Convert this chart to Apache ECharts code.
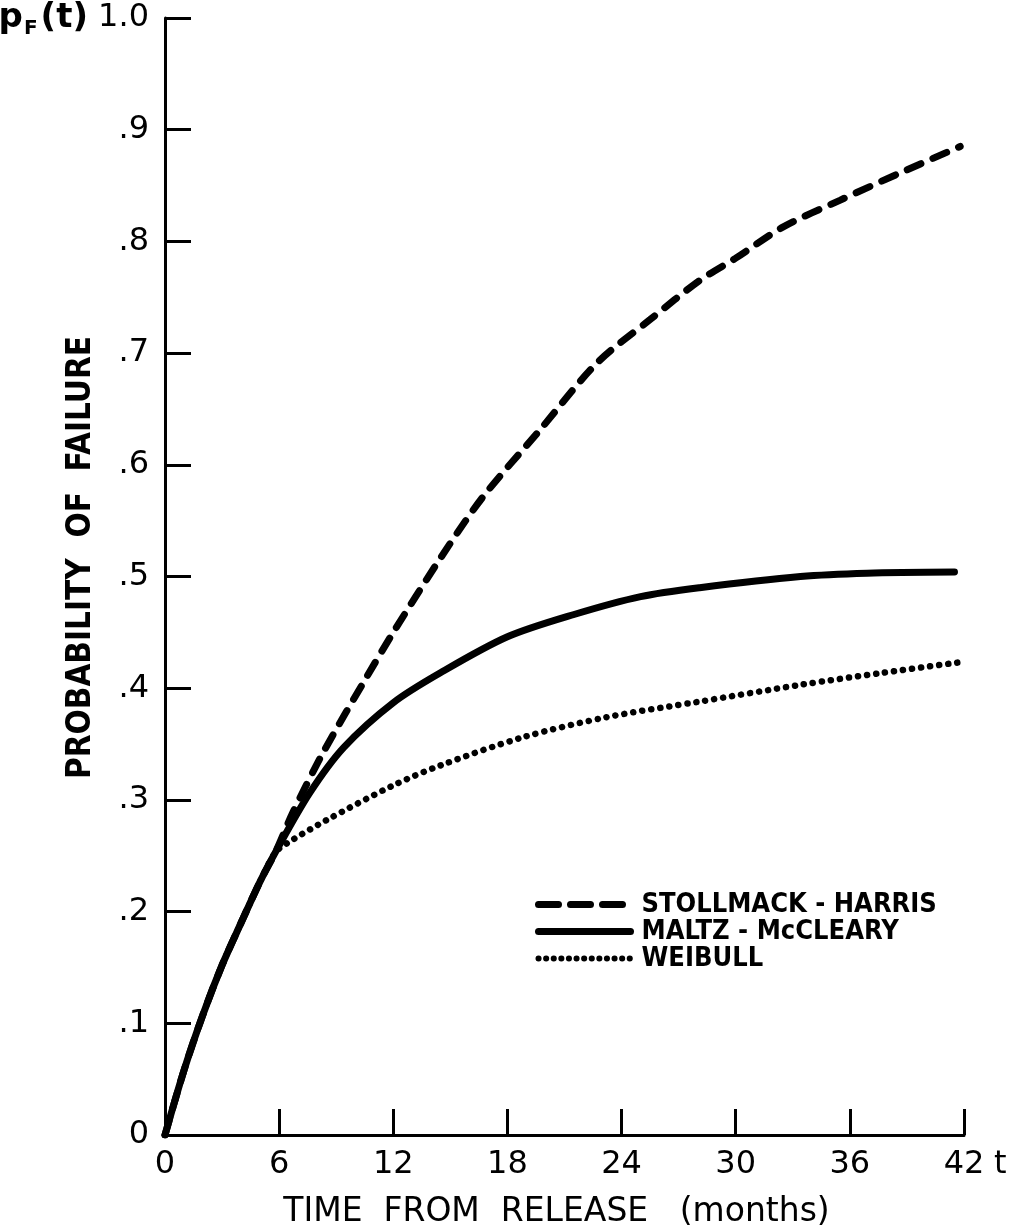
<!DOCTYPE html>
<html>
<head>
<meta charset="utf-8">
<script src="https://cdn.jsdelivr.net/npm/echarts@6/dist/echarts.min.js"></script>
<style>
  html, body { margin: 0; padding: 0; background: #fff; }
  #chart { width: 1017px; height: 1230px; }
</style>
</head>
<body>
<div id="chart"></div>
<script>
// Probability of failure vs. time from release, three models
const stollmackT = [0, 1, 2, 3, 4, 5, 5.8, 6.7, 8.3, 10.6, 12, 14.5, 16.7, 19.7, 22.7, 25.5, 28.1, 30, 32.5, 35.5, 38.6, 41.8];
const stollmackP = [0, 0.058, 0.108, 0.152, 0.19, 0.227, 0.253, 0.288, 0.342, 0.41, 0.45, 0.517, 0.571, 0.631, 0.691, 0.73, 0.765, 0.785, 0.813, 0.837, 0.861, 0.885];

const maltzT = [0, 1, 2, 3, 4, 5, 5.8, 7.6, 9.4, 12, 14.5, 18, 21.5, 25, 28.1, 33.4, 36.9, 41.5];
const maltzP = [0, 0.058, 0.108, 0.152, 0.19, 0.227, 0.253, 0.306, 0.347, 0.387, 0.414, 0.446, 0.466, 0.482, 0.49, 0.5, 0.503, 0.504];

const weibullT = [0, 1, 2, 3, 4, 5, 5.8, 6.4, 8.5, 12, 14.5, 18.8, 23.2, 28.1, 33.4, 37.8, 41.7];
const weibullP = [0, 0.058, 0.108, 0.152, 0.19, 0.227, 0.253, 0.261, 0.282, 0.313, 0.331, 0.356, 0.374, 0.388, 0.403, 0.414, 0.423];

const seriesNames = ['STOLLMACK - HARRIS', 'MALTZ - McCLEARY', 'WEIBULL'];
const xTitle = 'TIME  FROM  RELEASE   (months)';
const yTitle = 'PROBABILITY  OF  FAILURE';

const pairs = (ts, ps) => ts.map((t, i) => [t, ps[i]]);

const FONT = 'DejaVu Sans';
const FONT_NARROW = 'DejaVu Sans Condensed';
const INK = '#000';

// line looks of the three curves
const dashedLine = { color: INK, width: 7, type: [15, 13], cap: 'round' };
const solidLine = { color: INK, width: 7, cap: 'round' };
const dottedLine = { color: INK, width: 6.5, type: [0.1, 9], cap: 'round' };

const chart = echarts.init(document.getElementById('chart'), null, { renderer: 'canvas' });

chart.setOption({
  animation: false,
  backgroundColor: '#fff',
  textStyle: { fontFamily: FONT, color: INK },
  grid: { left: 165, right: 53, top: 18, bottom: 95, containLabel: false, outerBoundsMode: 'none' },
  legend: {
    orient: 'vertical',
    left: 535,
    top: 891,
    padding: 0,
    itemWidth: 92,
    itemHeight: 20,
    itemGap: 0,
    itemStyle: { opacity: 0 },
    textStyle: { fontFamily: FONT_NARROW, fontSize: 27, fontWeight: 'bold', color: INK, lineHeight: 20, padding: [0, 0, 0, 6] },
    data: [
      { name: seriesNames[0], lineStyle: { width: 7, type: [20, 12], cap: 'round' } },
      { name: seriesNames[1], lineStyle: { width: 7 } },
      { name: seriesNames[2], lineStyle: { width: 6, type: [0.1, 7.5], cap: 'round' } }
    ]
  },
  xAxis: [{
    type: 'value',
    min: 0, max: 42, interval: 6,
    position: 'bottom',
    axisLine: { lineStyle: { color: INK, width: 3 } },
    axisTick: { inside: true, length: 26, lineStyle: { color: INK, width: 3 } },
    axisLabel: { fontSize: 32, color: INK, margin: 14, fontFamily: FONT },
    splitLine: { show: false },
    name: xTitle,
    nameLocation: 'middle',
    nameGap: 61,
    nameMoveOverlap: false,
    nameTextStyle: { fontSize: 33, color: INK, fontFamily: FONT, padding: [0, 16, 0, 0] }
  }, {
    type: 'value',
    min: 0, max: 42,
    position: 'bottom',
    axisLine: { show: false },
    axisTick: { show: false },
    axisLabel: { show: false },
    splitLine: { show: false },
    name: 't',
    nameLocation: 'end',
    nameGap: 30,
    nameMoveOverlap: false,
    nameTextStyle: { fontSize: 32, color: INK, fontFamily: FONT, verticalAlign: 'top', padding: [14, 0, 0, 0] }
  }],
  yAxis: {
    type: 'value',
    min: 0, max: 1, interval: 0.1,
    axisLine: { lineStyle: { color: INK, width: 3 } },
    axisTick: { inside: true, length: 26, lineStyle: { color: INK, width: 3 } },
    axisLabel: {
      fontSize: 32, color: INK, margin: 16, fontFamily: FONT,
      formatter: function (v) {
        if (v === 0) return '0';
        if (Math.abs(v - 1) < 1e-9) return '{p|p}{f|F}{p|(t)} 1.0';
        return '.' + Math.round(v * 10);
      },
      rich: {
        p: { fontSize: 34, fontWeight: 'bold', fontFamily: FONT, color: INK },
        f: { fontSize: 20, fontWeight: 'bold', fontFamily: FONT, color: INK, padding: [22, 3, 0, 1] }
      }
    },
    splitLine: { show: false },
    name: yTitle,
    nameLocation: 'middle',
    nameGap: 67,
    nameMoveOverlap: false,
    nameTextStyle: { fontSize: 33, fontWeight: 'bold', color: INK, fontFamily: FONT_NARROW, padding: [0, 0, 0, 38] }
  },
  series: [{
    name: seriesNames[0],
    type: 'line',
    data: pairs(stollmackT, stollmackP),
    symbol: 'none',
    smooth: 0.3,
    z: 2,
    lineStyle: dashedLine,
    itemStyle: { color: INK }
  }, {
    name: seriesNames[1],
    type: 'line',
    data: pairs(maltzT, maltzP),
    symbol: 'none',
    smooth: 0.3,
    z: 4,
    lineStyle: solidLine,
    itemStyle: { color: INK }
  }, {
    name: seriesNames[2],
    type: 'line',
    data: pairs(weibullT, weibullP),
    symbol: 'none',
    smooth: 0.3,
    z: 3,
    lineStyle: dottedLine,
    itemStyle: { color: INK }
  }]
});
</script>
</body>
</html>
